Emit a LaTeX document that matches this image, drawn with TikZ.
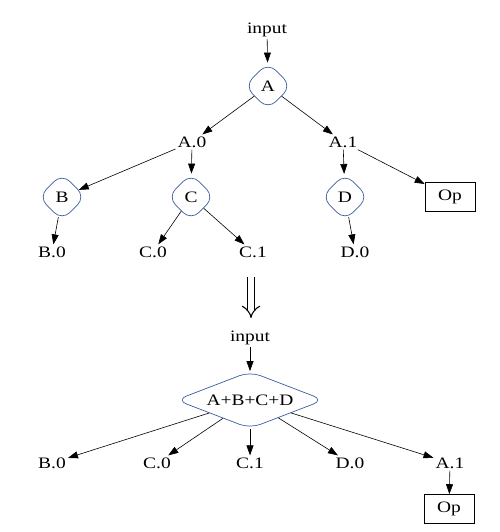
\documentclass[tikz,border=0pt]{standalone}
\usepackage{fontspec}
\setmainfont[FakeStretch=1.22]{Liberation Serif}
\usetikzlibrary{arrows.meta,shapes.geometric}
\definecolor{fuseB}{HTML}{3A5C9E}
\tikzset{
  edge/.style={-{Triangle[length=10bp,width=7bp]}, line width=0.6pt},
  rewrite/.style={-{Implies[length=9bp,width=19bp]}, double, double distance=5.5bp, line width=1.1bp},
  fused/.style={diamond, aspect=1, draw=fuseB, line width=0.7pt, rounded corners=11bp,
    inner sep=0pt, minimum size=47bp, font=\fontsize{16}{18}\selectfont},
  bigfused/.style={diamond, aspect=2.6, draw=fuseB, line width=0.7pt, rounded corners=11bp,
    inner sep=0pt, minimum width=148bp, minimum height=57bp, font=\fontsize{16}{18}\selectfont},
  opbox/.style={draw, line width=0.6pt, inner sep=0pt, minimum width=50bp, minimum height=29bp,
    font=\fontsize{16}{18}\selectfont},
  lab/.style={font=\fontsize{16}{18}\selectfont, inner sep=2bp},
}

\begin{document}
\begin{tikzpicture}[x=1bp,y=-1bp]
\useasboundingbox (0,0) rectangle (500,532);

% ===================== top: unfused graph ===================================
\node[lab] (in1) at (267,30) {input};
\node[fused] (A) at (268,86) {A};
\node[lab] (A0) at (192,142) {A.0};
\node[lab] (A1) at (343,142) {A.1};
\node[fused] (B) at (62,197) {B};
\node[fused] (C) at (191,197) {C};
\node[fused] (D) at (345,197) {D};
\node[opbox] (op1) at (450,197) {Op};
\node[lab] (B0) at (52,252) {B.0};
\node[lab] (C0) at (153,252) {C.0};
\node[lab] (C1) at (253,252) {C.1};
\node[lab] (D0) at (355,252) {D.0};

\draw[edge] (in1) -- (A);
\draw[edge] (A) -- (A0);
\draw[edge] (A) -- (A1);
\draw[edge] (A0) -- (B);
\draw[edge] (A0) -- (C);
\draw[edge] (A1) -- (D);
\draw[edge] (A1) -- (op1);
\draw[edge] (B) -- (B0);
\draw[edge] (C) -- (C0);
\draw[edge] (C) -- (C1);
\draw[edge] (D) -- (D0);

% ===================== rewrite ===============================================
\coordinate (rwtop) at (251,277);
\coordinate (rwbot) at (251,318);
\draw[rewrite] (rwtop) -- (rwbot);

% ===================== bottom: fused graph ==================================
\node[lab] (in2) at (250,338) {input};
\node[bigfused] (ABCD) at (250,400) {A+B+C+D};
\node[lab] (fB0) at (52,463) {B.0};
\node[lab] (fC0) at (157,463) {C.0};
\node[lab] (fC1) at (250,463) {C.1};
\node[lab] (fD0) at (350,463) {D.0};
\node[lab] (fA1) at (450,463) {A.1};
\node[opbox] (op2) at (449,509) {Op};

\draw[edge] (in2) -- (ABCD);
\foreach \t in {fB0,fC0,fC1,fD0,fA1}
  \draw[edge] (ABCD) -- (\t);
\draw[edge] (fA1) -- (op2);

\end{tikzpicture}
\end{document}
